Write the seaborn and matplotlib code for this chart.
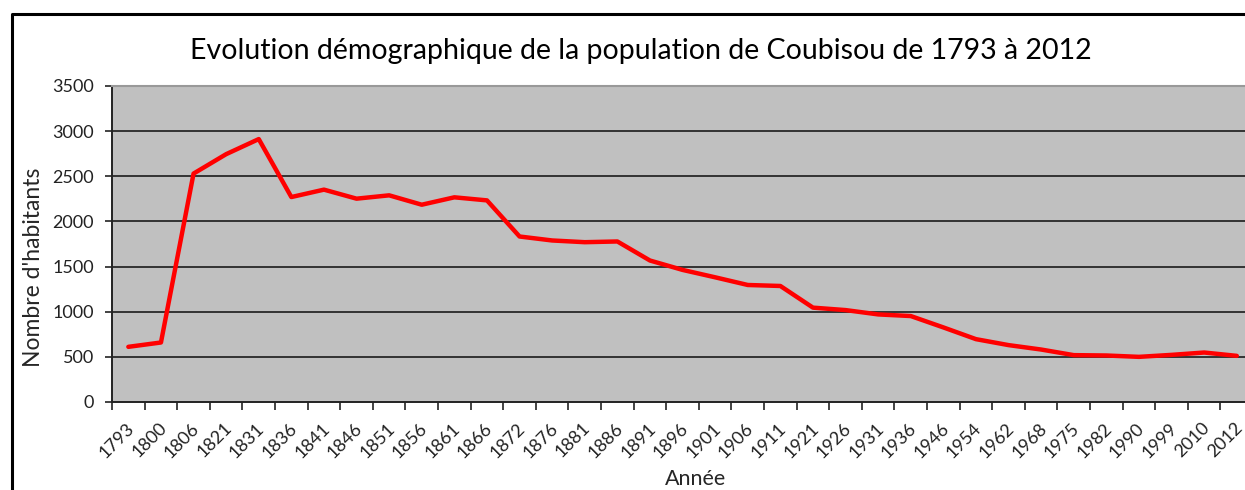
import numpy as np
import pandas as pd
import matplotlib
matplotlib.use("Agg")
import matplotlib.pyplot as plt
import matplotlib.transforms as mtransforms
import seaborn as sns
from matplotlib.lines import Line2D

#Data
annees = ["1793", "1800", "1806", "1821", "1831", "1836", "1841", "1846", "1851",
          "1856", "1861", "1866", "1872", "1876", "1881", "1886", "1891", "1896",
          "1901", "1906", "1911", "1921", "1926", "1931", "1936", "1946", "1954",
          "1962", "1968", "1975", "1982", "1990", "1999", "2010", "2012"]
habitants = [611, 659, 2530, 2745, 2912, 2270, 2352, 2252, 2289,
             2185, 2267, 2233, 1833, 1789, 1770, 1778, 1567, 1463,
             1381, 1296, 1285, 1045, 1018, 970, 952, 826, 696,
             630, 581, 519, 515, 500, 522, 548, 511]
y_ticks = [0, 500, 1000, 1500, 2000, 2500, 3000, 3500]

df = pd.DataFrame({"Année": annees, "Habitants": habitants})

#Style
sns.set_theme(style="white")
plt.rcParams["font.family"] = ["Lato", "DejaVu Sans"]
plt.rcParams["text.color"] = "black"

fig = plt.figure(figsize=(12.45, 4.9), dpi=100)
ax = fig.add_axes([0.0900, 0.1796, 0.9165, 0.6449])
ax.set_facecolor("#c0c0c0")

#Line
sns.lineplot(data=df, x="Année", y="Habitants", color="#ff0000", linewidth=3.2, ax=ax)

#Axes limits and grid
ax.set_xlim(-0.5, len(annees) - 0.5)
ax.set_ylim(0, 3500)
ax.set_yticks(y_ticks)
for v in y_ticks[1:]:
    ax.axhline(v, color="#333333", linewidth=1.4, zorder=1)

#Category ticks at boundaries, labels at centers
ax.set_xticks(range(len(annees)))
ax.set_xticklabels(annees, rotation=45, ha="right", va="center", rotation_mode="anchor", fontsize=13)
ax.set_xticks(np.arange(-0.5, len(annees), 1), minor=True)
ax.tick_params(axis="x", which="major", length=0, pad=17, colors="#222222")
ax.tick_params(axis="x", which="minor", length=6, width=1.2, color="#222222", bottom=True)
ax.tick_params(axis="y", length=5, width=1.2, color="#222222", left=True, labelsize=13, labelcolor="#222222", pad=8)
shift = mtransforms.ScaledTranslation(3 / 100, 0, fig.dpi_scale_trans)
for lab in ax.get_xticklabels():
    lab.set_transform(lab.get_transform() + shift)

#Spines
for s in ["left", "bottom"]:
    ax.spines[s].set_color("#222222")
    ax.spines[s].set_linewidth(1.4)
ax.spines["top"].set_color("#999999")
ax.spines["top"].set_linewidth(1.5)
ax.spines["right"].set_visible(False)

#Labels
ax.set_xlabel("Année", fontsize=15.5)
ax.xaxis.set_label_coords(0.511, -0.212)
ax.set_ylabel("Nombre d'habitants", fontsize=16.5)
ax.yaxis.set_label_coords(-0.060, 0.427)
fig.text(0.515, 0.895, "Evolution démographique de la population de Coubisou de 1793 à 2012",
         ha="center", va="center", fontsize=20.5, color="black")

#Black frame
fig.add_artist(Line2D([12 / 1245, 12 / 1245, 1], [0, 1 - 14 / 490, 1 - 14 / 490],
                      color="black", linewidth=2.2, transform=fig.transFigure))

fig.savefig("out.png", dpi=100)
